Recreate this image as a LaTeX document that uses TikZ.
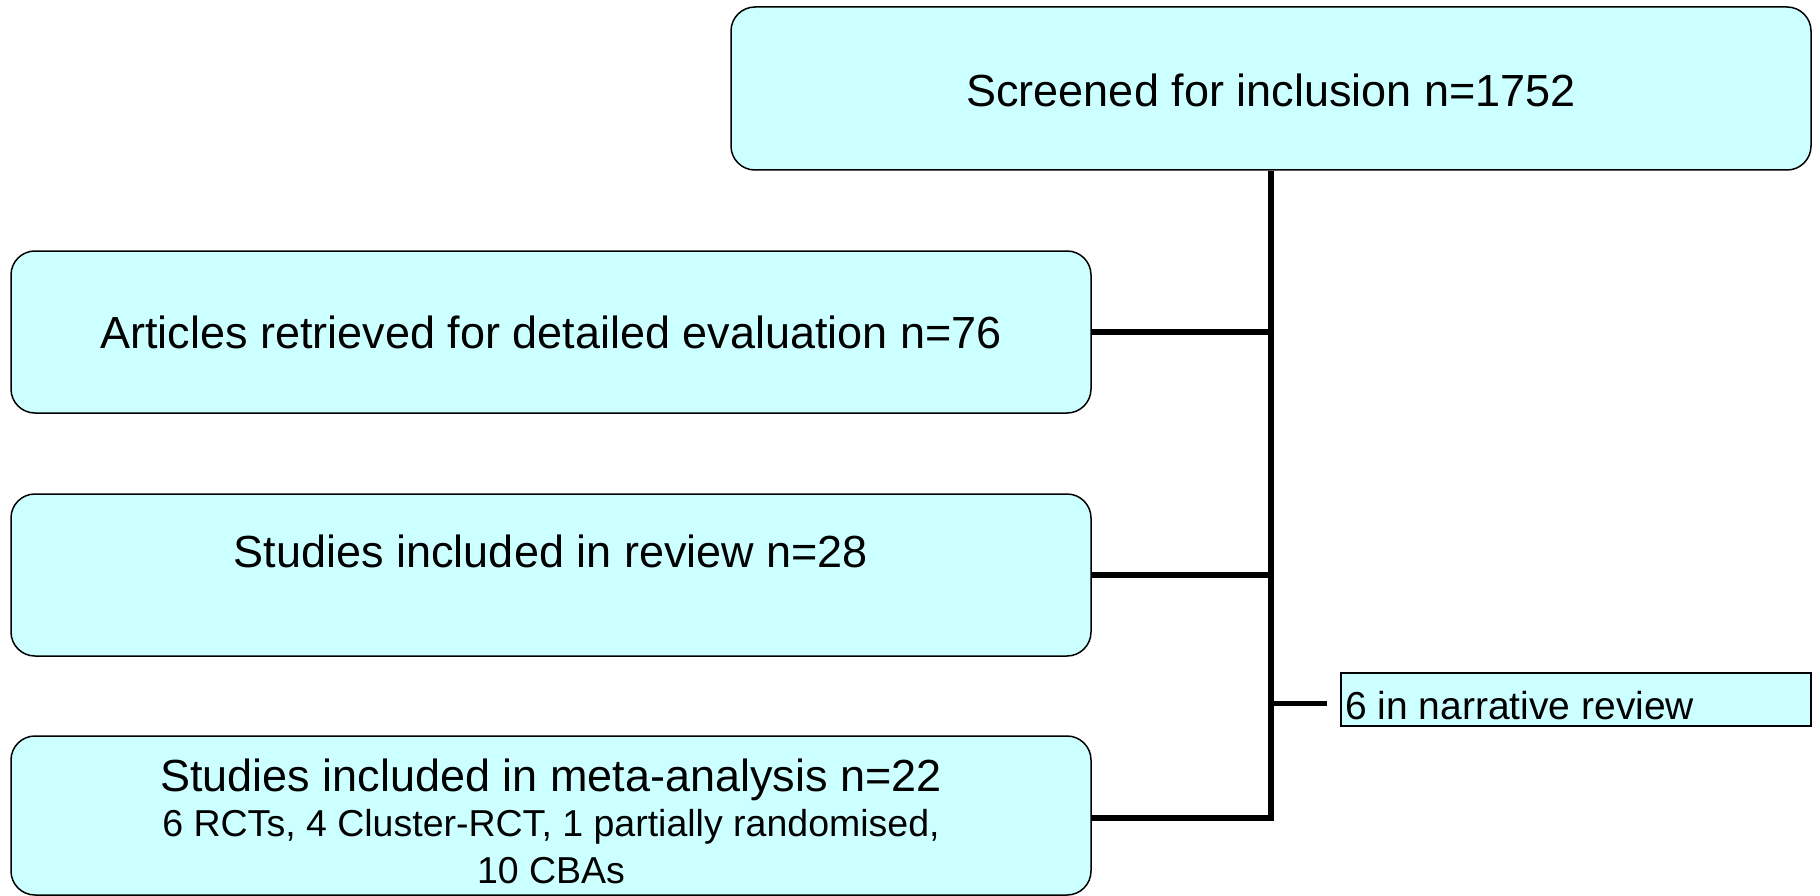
\documentclass[tikz,border=0pt]{standalone}
\usepackage{fontspec}
\setmainfont{Liberation Sans}
\definecolor{boxfill}{HTML}{CCFFFF}
\tikzset{
  box/.style={draw=black, fill=boxfill, line width=1.5pt, rounded corners=24pt, inner sep=0pt},
  flatbox/.style={draw=black, fill=boxfill, line width=1.2pt, inner sep=0pt},
  conn/.style={draw=black, line width=6pt},
  thinconn/.style={draw=black, line width=5pt},
  big/.style={font=\fontsize{45}{54}\selectfont, inner sep=0pt},
  small/.style={font=\fontsize{37.5}{46}\selectfont, inner sep=0pt},
  mid/.style={font=\fontsize{39}{46}\selectfont, inner sep=0pt},
}
\begin{document}
\begin{tikzpicture}[x=1pt,y=-1pt]
\useasboundingbox (0,0) rectangle (1820,896);
% boxes
\node[box, minimum width=1080pt, minimum height=163pt] (top) at (1271,88.5) {};
\node[big] (toptxt) at (1271,90) {Screened for inclusion n=1752};
\node[box, minimum width=1080pt, minimum height=162pt] (art) at (551,332) {};
\node[big] (arttxt) at (551,332) {Articles retrieved for detailed evaluation n=76};
\node[box, minimum width=1080pt, minimum height=162pt] (rev) at (551,575) {};
\node[big, anchor=base] (revtxt) at (551,567) {Studies included in review n=28};
\node[box, minimum width=1080pt, minimum height=159pt] (meta) at (551,815.5) {};
\node[big, anchor=base] (meta1) at (551,791) {Studies included in meta-analysis n=22};
\node[small, anchor=base] (meta2) at (551,836) {6 RCTs, 4 Cluster-RCT, 1 partially randomised,};
\node[small, anchor=base] (meta3) at (551,883) {10 CBAs};
\node[flatbox, minimum width=470pt, minimum height=53pt] (narr) at (1576,699.5) {};
\node[mid, anchor=base west] (narrtxt) at (1345,719) {6 in narrative review};
% connectors
\coordinate (mj) at (1271,818);
\coordinate (n0) at (1268,703);
\draw[conn, line join=miter] (top.south) -- (mj) -- (meta.east |- mj);
\draw[conn] (art.east) -- (art.east -| top.south);
\draw[conn] (rev.east) -- (rev.east -| top.south);
\draw[thinconn, shorten >=13pt] (n0) -- (narr.west |- n0);
\end{tikzpicture}
\end{document}
